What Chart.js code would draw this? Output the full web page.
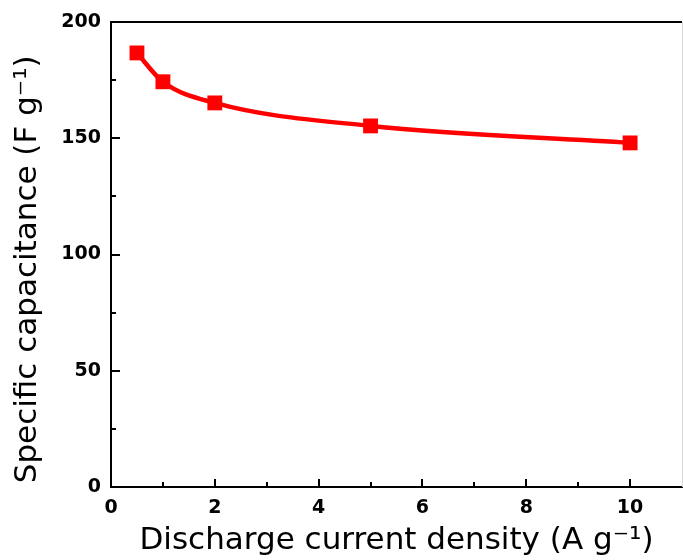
<!DOCTYPE html>
<html>
<head>
<meta charset="utf-8">
<script src="https://cdn.jsdelivr.net/npm/chart.js@4/dist/chart.umd.min.js"></script>
<style>
  html, body { margin: 0; padding: 0; background: #fff; }
  #wrap { width: 683px; height: 560px; position: relative; }
</style>
</head>
<body>
<div id="wrap"><canvas id="c" width="683" height="560"></canvas></div>
<script>
// ---- data ----
const currentDensity = [0.5, 1, 2, 5, 10];            // A g-1
const capacitance    = [186.7, 174.3, 165.2, 155.3, 148]; // F g-1
const xTickLabels    = [0, 2, 4, 6, 8, 10];
const yTickLabels    = [0, 50, 100, 150, 200];
const xMinorTicks    = [1, 3, 5, 7, 9];
const yMinorTicks    = [25, 75, 125, 175];
const xTitle = 'Discharge current density (A g\u207B\u00B9)';
const yTitle = 'Specific capacitance (F g\u207B\u00B9)';

const FONT = '"DejaVu Sans", "Liberation Sans", Arial, sans-serif';

const points = currentDensity.map((x, i) => ({ x: x, y: capacitance[i] }));

const inwardTicks = {
  id: 'inwardTicks',
  afterDraw(chart) {
    const { ctx, chartArea: a, scales: { x, y } } = chart;
    ctx.save();
    ctx.strokeStyle = '#000';
    ctx.lineWidth = 2;
    ctx.beginPath();
    // top frame
    ctx.moveTo(a.left - 1, a.top);
    ctx.lineTo(a.right, a.top);
    xTickLabels.forEach(v => {
      const px = Math.round(x.getPixelForValue(v));
      ctx.moveTo(px, a.bottom); ctx.lineTo(px, a.bottom - 8);
    });
    xMinorTicks.forEach(v => {
      const px = Math.round(x.getPixelForValue(v));
      ctx.moveTo(px, a.bottom); ctx.lineTo(px, a.bottom - 5);
    });
    yTickLabels.forEach(v => {
      const py = Math.round(y.getPixelForValue(v));
      ctx.moveTo(a.left, py); ctx.lineTo(a.left + 9, py);
    });
    yMinorTicks.forEach(v => {
      const py = Math.round(y.getPixelForValue(v));
      ctx.moveTo(a.left, py); ctx.lineTo(a.left + 5, py);
    });
    ctx.stroke();
    // faint right edge
    ctx.strokeStyle = '#d8d8d8';
    ctx.lineWidth = 1;
    ctx.beginPath();
    ctx.moveTo(a.right + 0.5, a.top);
    ctx.lineTo(a.right + 0.5, a.bottom);
    ctx.stroke();
    ctx.restore();
  }
};

new Chart(document.getElementById('c'), {
  type: 'scatter',
  data: {
    datasets: [{
      data: points,
      showLine: true,
      cubicInterpolationMode: 'monotone',
      borderColor: '#ff0000',
      backgroundColor: '#ff0000',
      borderWidth: 4.5,
      pointStyle: 'rect',
      pointRadius: 10.5,
      pointBorderWidth: 0,
      pointHoverRadius: 10.5,
      clip: false
    }]
  },
  options: {
    responsive: false,
    animation: false,
    devicePixelRatio: 1,
    layout: { autoPadding: false, padding: { top: 22, right: 1, bottom: 0, left: 0 } },
    plugins: { legend: { display: false }, tooltip: { enabled: false } },
    scales: {
      x: {
        type: 'linear',
        min: 0, max: 11,
        afterFit(s) { s.height = 73; s.paddingLeft = 0; s.paddingRight = 0; },
        grid: { display: true, drawOnChartArea: false, drawTicks: false },
        border: { display: true, color: '#000', width: 2 },
        ticks: {
          stepSize: 2, includeBounds: false, padding: 10,
          color: '#000',
          font: { family: FONT, size: 19, weight: 'bold' },
          callback: v => xTickLabels.includes(v) ? String(v) : ''
        },
        title: {
          display: true, text: xTitle, color: '#000',
          font: { family: FONT, size: 31 },
          padding: { top: 0, bottom: 0 }
        }
      },
      y: {
        min: 0, max: 200,
        afterFit(s) { s.width = 111; s.paddingTop = 0; s.paddingBottom = 0; },
        grid: { display: true, drawOnChartArea: false, drawTicks: false },
        border: { display: true, color: '#000', width: 2 },
        ticks: {
          stepSize: 50, padding: 10,
          color: '#000',
          font: { family: FONT, size: 19, weight: 'bold' },
          callback: v => yTickLabels.includes(v) ? String(v) : ''
        },
        title: {
          display: true, text: yTitle + '   ', color: '#000',
          font: { family: FONT, size: 31 },
          padding: { top: 9, bottom: 0 }
        }
      }
    }
  },
  plugins: [inwardTicks]
});
</script>
</body>
</html>
